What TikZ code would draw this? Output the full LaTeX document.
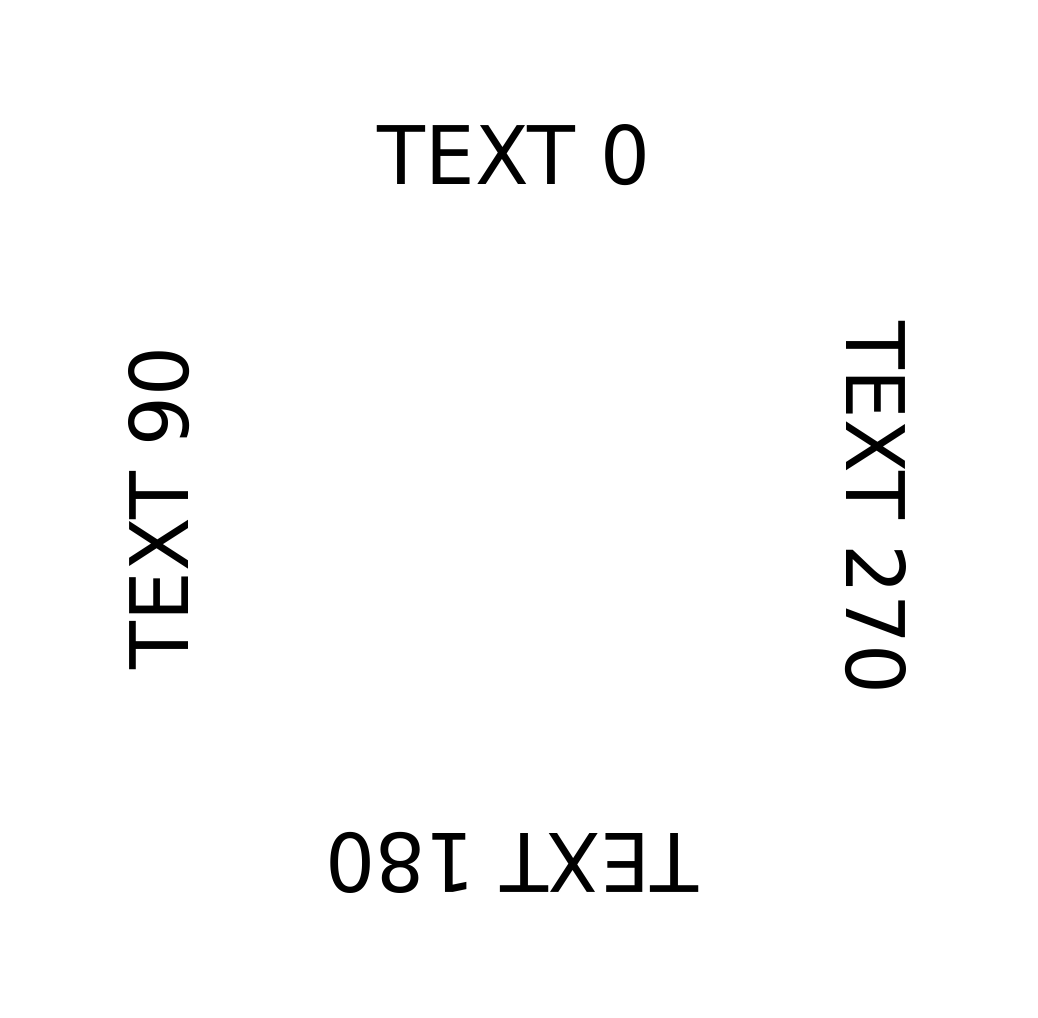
\documentclass[tikz,border=0pt]{standalone}
\usepackage{fontspec}
\setmainfont{DejaVu Sans}[FakeStretch=0.97]
\usepackage{tikz}

\begin{document}
\begin{tikzpicture}[baseline=(current  bounding  box.center), thick, txt/.style={inner sep=0pt, font=\fontsize{23pt}{27pt}\selectfont}]
\useasboundingbox (0,0) rectangle (10.38,-10.18);
\node [txt, rotate=0] (t0) at (5.14,-1.55) {TEXT 0};
\node [txt, rotate=90] (t90) at (1.59,-5.08) {TEXT 90};
\node [txt, rotate=180] (t180) at (5.12,-8.63) {TEXT 180};
\node [txt, rotate=270] (t270) at (8.76,-5.08) {TEXT 270};

\end{tikzpicture}
\end{document}
